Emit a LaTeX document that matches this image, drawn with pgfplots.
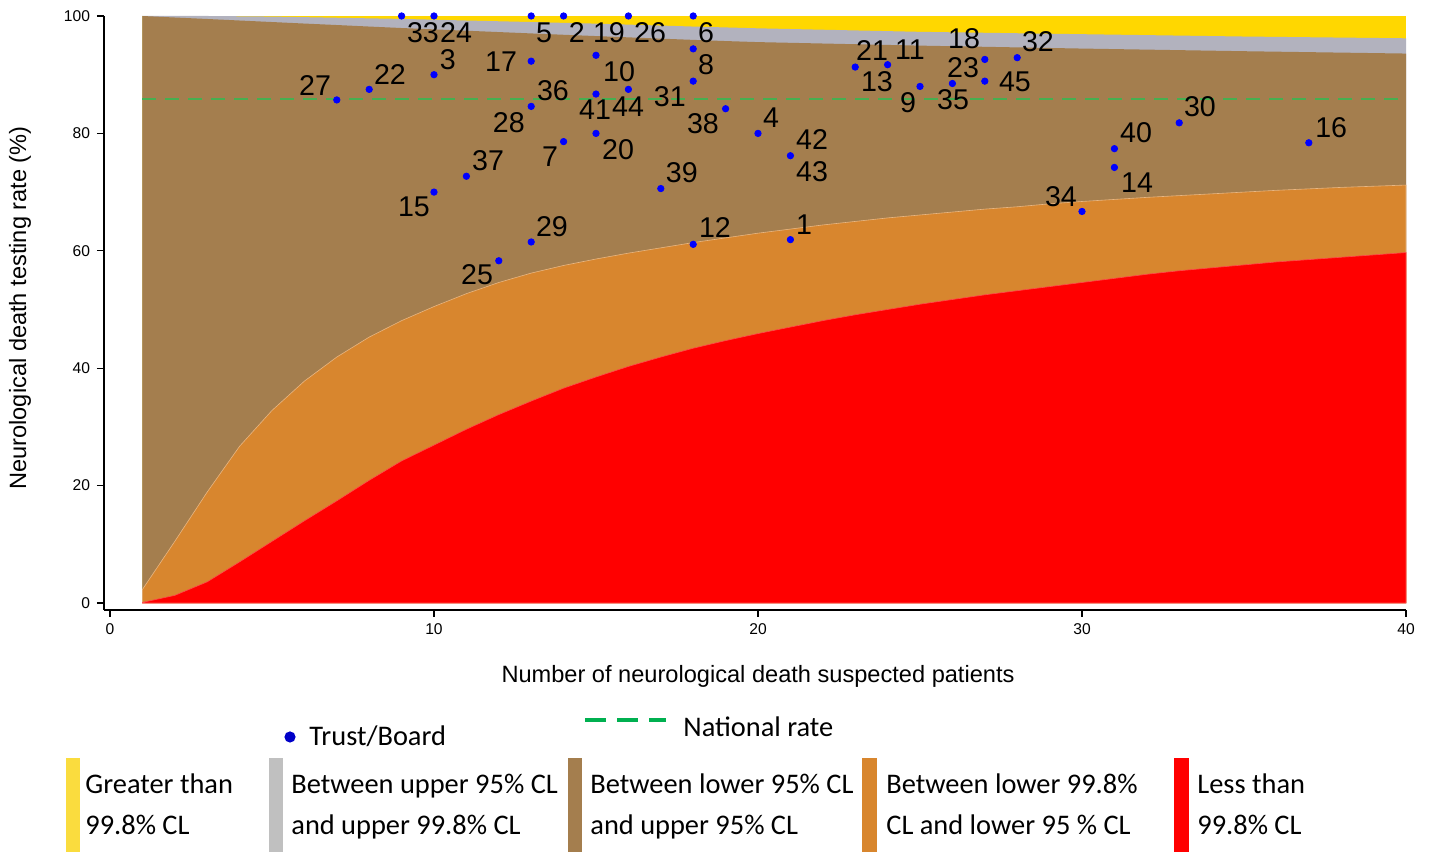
\documentclass[border=0pt]{standalone}
\usepackage{fontspec}
\setmainfont{Liberation Sans}
\newfontfamily\calfont{Carlito}
\usepackage{pgfplots}
\usepackage{pgfplotstable}
\pgfplotsset{compat=1.18}

\definecolor{bandyellow}{RGB}{255,215,0}
\definecolor{bandgray}{RGB}{178,178,190}
\definecolor{bandbrown}{RGB}{164,126,78}
\definecolor{bandorange}{RGB}{216,134,46}
\definecolor{bandred}{RGB}{255,0,0}
\definecolor{legyellow}{RGB}{250,220,62}
\definecolor{leggray}{RGB}{192,192,192}
\definecolor{natgreen}{RGB}{70,175,80}
\definecolor{leggreen}{RGB}{0,176,80}
\definecolor{ptblue}{RGB}{0,0,255}
\definecolor{legblue}{RGB}{0,0,200}

% control limits (%)
\pgfplotstableread{
x   u998   u95    l95   l998
1   100.0  100.0  2.3   0.1
2   100.0  99.74  10.5  1.3
3   100.0  99.49  18.9  3.6
4   99.95  99.23  26.7  7.0
5   99.9   98.97  32.8  10.5
6   99.8   98.71  37.8  14.0
7   99.7   98.46  41.9  17.4
8   99.6   98.2   45.3  20.9
9   99.5   97.95  48.1  24.2
10  99.37  97.72  50.5  26.9
11  99.23  97.49  52.7  29.6
12  99.1   97.26  54.6  32.1
13  98.97  97.03  56.2  34.4
14  98.83  96.8   57.5  36.6
15  98.7   96.58  58.6  38.5
16  98.53  96.36  59.6  40.3
17  98.37  96.14  60.5  41.9
18  98.2   95.93  61.4  43.4
19  98.05  95.73  62.2  44.7
20  97.9   95.55  63.0  45.9
21  97.78  95.43  63.7  47.0
22  97.66  95.31  64.4  48.1
23  97.54  95.19  65.0  49.1
24  97.42  95.07  65.6  50.0
25  97.3   94.95  66.1  50.9
26  97.22  94.85  66.6  51.7
27  97.14  94.75  67.1  52.5
28  97.06  94.65  67.5  53.2
29  96.98  94.55  68.0  53.9
30  96.9   94.45  68.4  54.6
31  96.82  94.36  68.75 55.3
32  96.74  94.27  69.1  56.0
33  96.66  94.18  69.4  56.6
34  96.58  94.09  69.7  57.1
35  96.5   94.0   70.0  57.6
36  96.44  93.92  70.3  58.1
37  96.38  93.84  70.55 58.5
38  96.32  93.76  70.8  58.9
39  96.26  93.68  71.0  59.3
40  96.2   93.6   71.2  59.7
}\bands

% trusts / boards: suspected patients, testing rate (%)
\pgfplotstableread{
n  rate
9  100
10 100
13 100
14 100
16 100
18 100
15 93.3
18 94.4
13 92.3
10 90.0
8  87.5
7  85.7
18 88.9
15 86.7
16 87.5
13 84.6
19 84.2
15 80.0
14 78.6
11 72.7
10 70.0
17 70.6
13 61.5
18 61.1
12 58.3
20 80.0
21 76.2
23 91.3
24 91.7
25 88.0
26 88.5
27 92.6
27 88.9
28 92.9
21 61.9
30 66.7
33 81.8
31 77.4
31 74.2
37 78.4
}\trusts

% label positions
\pgfplotstableread{
lx    ly    lab
9.66  97.1  33
10.68 97.1  24
13.40 97.1  5
14.41 97.1  2
15.40 97.1  19
16.67 97.1  26
18.40 97.1  6
10.43 92.5  3
12.07 92.2  17
15.71 90.6  10
18.40 91.7  8
8.64  90.1  22
6.33  88.2  27
13.67 87.2  36
14.97 84.0  41
15.99 84.5  44
17.28 86.2  31
12.31 81.8  28
18.30 81.6  38
15.68 77.2  20
13.58 76.0  7
11.67 75.3  37
17.65 73.3  39
9.38  67.5  15
13.64 64.1  29
18.67 64.0  12
11.33 55.9  25
20.40 82.6  4
21.67 79.0  42
21.67 73.4  43
21.42 64.4  1
23.52 94.2  21
24.69 94.2  11
23.67 88.8  13
24.63 85.2  9
26.36 96.2  18
26.33 91.2  23
26.02 85.7  35
27.93 88.8  45
28.64 95.6  32
29.35 69.3  34
33.64 84.5  30
31.67 80.2  40
31.70 71.6  14
37.69 80.9  16
}\labels

\begin{document}
\begin{tikzpicture}
\useasboundingbox (-52pt,-122pt) rectangle (665pt,305pt);
\begin{axis}[
  at={(0pt,0pt)}, anchor=south west,
  scale only axis, width=651pt, height=297pt,
  xmin=-0.185, xmax=40, ymin=-1.19, ymax=100,
  axis lines=left,
  x axis line style={-, line width=0.65pt},
  y axis line style={-, line width=0.65pt},
  xtick={0,10,20,30,40}, ytick={0,20,40,60,80,100},
  tick align=outside, major tick length=3.5pt,
  tick style={black, line width=0.6pt},
  /pgf/number format/assume math mode=true,
  ticklabel style={font=\fontsize{7.8}{9}\selectfont},
  xlabel={Number of neurological death suspected patients},
  ylabel={Neurological death testing rate (\%)},
  label style={font=\fontsize{11.8}{14}\selectfont},
  xlabel style={at={(axis description cs:0.5023,-0.1111)}, anchor=center},
  ylabel style={at={(axis description cs:-0.0645,0.5084)}, anchor=center},
  clip=false,
]
\addplot[fill=bandyellow, draw=none] coordinates {(1,100) (40,100)} \closedcycle;
\addplot[fill=bandgray, draw=none] table[x=x, y=u998] {\bands} \closedcycle;
\addplot[fill=bandbrown, draw=none] table[x=x, y=u95] {\bands} \closedcycle;
\addplot[fill=bandorange, draw=bandorange!60!white, line width=0.3pt] table[x=x, y=l95] {\bands} \closedcycle;
\addplot[fill=bandred, draw=bandred!70!white, line width=0.3pt] table[x=x, y=l998] {\bands} \closedcycle;
\addplot[natgreen, line width=0.9pt, dash pattern=on 7pt off 4.5pt] coordinates {(1,85.8) (40,85.8)};
\addplot[only marks, mark=*, mark size=1.6pt, color=ptblue] table[x=n, y=rate] {\trusts};
\addplot[draw=none, mark=none, nodes near coords, point meta=explicit symbolic,
  every node near coord/.append style={anchor=center, inner sep=0pt, font=\fontsize{14.3}{16}\selectfont, text=black}]
  table[x=lx, y=ly, meta=lab] {\labels};
\end{axis}

% legend
\fill[legblue] (93pt,-63.5pt) circle (2.8pt);
\node[anchor=base west, inner sep=0pt, font=\calfont\fontsize{14.2}{17}\selectfont] at (102.5pt,-68pt) {Trust/Board};
\draw[leggreen, line width=2pt, dash pattern=on 10.5pt off 5.5pt] (240.5pt,-55pt) -- (281pt,-55pt);
\node[anchor=base west, inner sep=0pt, font=\calfont\fontsize{14.2}{17}\selectfont] at (289.5pt,-63.5pt) {National rate};

\fill[legyellow] (-19pt,-74pt) rectangle (-12pt,-121pt);
\fill[leggray] (82.5pt,-74pt) rectangle (89.5pt,-121pt);
\fill[bandbrown] (232pt,-74pt) rectangle (239pt,-121pt);
\fill[bandorange] (379pt,-74pt) rectangle (386.5pt,-121pt);
\fill[bandred] (535pt,-74pt) rectangle (542.5pt,-121pt);

\begin{scope}[every node/.style={anchor=base west, inner sep=0pt, font=\calfont\fontsize{14.2}{17}\selectfont}]
\node at (-9.5pt,-92pt) {Greater than};
\node at (-9.5pt,-112.5pt) {99.8\% CL};
\node at (93.5pt,-92pt) {Between upper 95\% CL};
\node at (93.5pt,-112.5pt) {and upper 99.8\% CL};
\node at (243pt,-92pt) {Between lower 95\% CL};
\node at (243pt,-112.5pt) {and upper 95\% CL};
\node at (391pt,-92pt) {Between lower 99.8\%};
\node at (391pt,-112.5pt) {CL and lower 95 \% CL};
\node at (546.5pt,-92pt) {Less than};
\node at (546.5pt,-112.5pt) {99.8\% CL};
\end{scope}
\end{tikzpicture}
\end{document}
